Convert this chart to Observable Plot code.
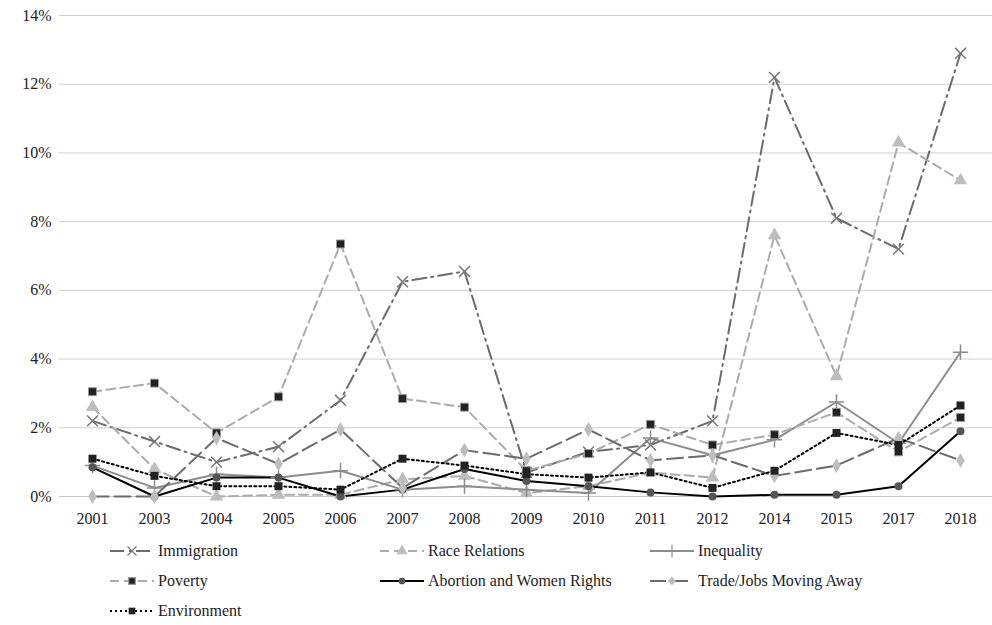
<!DOCTYPE html>
<html><head><meta charset="utf-8">
<script src="https://cdn.jsdelivr.net/npm/d3@7"></script>
<script src="https://cdn.jsdelivr.net/npm/@observablehq/plot@0.6"></script>
<style>
body{margin:0;background:#fff;font-family:"Times New Roman",Times,"Liberation Serif","DejaVu Serif",serif;}
#legend{display:grid;grid-template-columns:270px 270px 300px;margin-left:110px;row-gap:10px;font-size:16px;color:#222;margin-top:0px}
#legend div{display:flex;align-items:center;gap:4px;height:20px}
svg text{font-family:"Times New Roman",Times,"Liberation Serif","DejaVu Serif",serif !important;}
</style></head><body>
<div id="chart"></div>
<div id="legend"></div>
<script>
const years = ["2001","2003","2004","2005","2006","2007","2008","2009","2010","2011","2012","2014","2015","2017","2018"];
const immigration = [2.2,1.6,1.0,1.45,2.8,6.25,6.55,0.7,1.3,1.5,2.2,12.2,8.1,7.2,12.9];
const raceRelations = [2.6,0.8,0.0,0.05,0.05,0.5,0.6,0.1,0.3,0.7,0.55,7.6,3.5,10.3,9.2];
const inequality = [0.9,0.25,0.65,0.55,0.75,0.2,0.3,0.2,0.1,1.7,1.2,1.65,2.75,1.55,4.2];
const poverty = [3.05,3.3,1.85,2.9,7.35,2.85,2.6,0.75,1.25,2.1,1.5,1.8,2.45,1.3,2.3];
const abortion = [0.85,0.0,0.55,0.55,0.0,0.2,0.8,0.45,0.3,0.12,0.0,0.05,0.05,0.3,1.9];
const trade = [0.0,0.0,1.7,0.95,1.95,0.25,1.35,1.1,1.95,1.05,1.2,0.6,0.9,1.7,1.05];
const environment = [1.1,0.6,0.3,0.3,0.2,1.1,0.9,0.65,0.55,0.7,0.25,0.75,1.85,1.5,2.65];
const yTicks = [0,2,4,6,8,10,12,14];

const series = [
 {name:"Immigration", v:immigration, line:"#6b6b6b", dash:"14,5,2,5", sw:2, sym:"times", mfill:"none", mstroke:"#777", r:5},
 {name:"Race Relations", v:raceRelations, line:"#ababab", dash:"9,5", sw:2, sym:"triangle", mfill:"#bdbdbd", mstroke:"none", r:5},
 {name:"Inequality", v:inequality, line:"#8c8c8c", dash:null, sw:2, sym:"plus", mfill:"none", mstroke:"#8c8c8c", r:5},
 {name:"Poverty", v:poverty, line:"#ababab", dash:"9,5", sw:2, sym:"square", mfill:"#222", mstroke:"#999", r:4.5},
 {name:"Abortion and Women Rights", v:abortion, line:"#000", dash:null, sw:2, sym:"circle", mfill:"#555", mstroke:"none", r:4},
 {name:"Trade/Jobs Moving Away", v:trade, line:"#6b6b6b", dash:"16,6", sw:2, sym:"diamond", mfill:"#bdbdbd", mstroke:"none", r:4.5},
 {name:"Environment", v:environment, line:"#000", dash:"2,3", sw:2, sym:"square", mfill:"#222", mstroke:"none", r:4.5}
];
const marks = [
 Plot.gridY(yTicks.slice(1), {stroke:"#d0d0d0", strokeOpacity:1, strokeWidth:1}),
 Plot.ruleY([0], {stroke:"#c8c8c8"}),
 Plot.axisY({ticks:yTicks, tickFormat:d=>d+"%", tickSize:0, tickPadding:8, fontSize:16, fill:"#222"}),
 Plot.axisX({tickSize:0, tickPadding:16, fontSize:16, fill:"#222"})
];
for (const s of series) {
  const data = years.map((y,i)=>({x:y, y:s.v[i]}));
  marks.push(Plot.line(data,{x:"x",y:"y",stroke:s.line,strokeWidth:s.sw,strokeDasharray:s.dash}));
}
for (const s of series) {
  const data = years.map((y,i)=>({x:y, y:s.v[i]}));
  marks.push(Plot.dot(data,{x:"x",y:"y",symbol:s.sym,r:s.r,fill:s.mfill,stroke:s.mstroke,strokeWidth:s.sym==="times"||s.sym==="plus"?1.5:1}));
}
const chart = Plot.plot({
  width:992, height:541, marginLeft:59, marginRight:0, marginTop:15, marginBottom:45,
  style:{fontFamily:"'Times New Roman', Times, 'Liberation Serif', serif", fontSize:"16px", background:"#fff"},
  x:{type:"point", domain:years, padding:0.5, label:null},
  y:{domain:[0,14], label:null},
  marks
});
document.getElementById("chart").appendChild(chart);

const leg = d3.select("#legend");
for (const s of series) {
  const d = leg.append("div");
  const svg = d.append("svg").attr("width",44).attr("height",16);
  svg.append("line").attr("x1",0).attr("x2",44).attr("y1",8).attr("y2",8)
    .attr("stroke",s.line).attr("stroke-width",2).attr("stroke-dasharray",s.dash);
  const sym = {times:d3.symbolTimes,triangle:d3.symbolTriangle,plus:d3.symbolPlus,square:d3.symbolSquare,circle:d3.symbolCircle,diamond:d3.symbolDiamond2}[s.sym];
  svg.append("path").attr("transform","translate(22,8)").attr("d",d3.symbol(sym, s.r*s.r*2.2)())
    .attr("fill",s.mfill).attr("stroke",s.mstroke).attr("stroke-width",1.2);
  d.append("span").text(s.name);
}
</script></body></html>
